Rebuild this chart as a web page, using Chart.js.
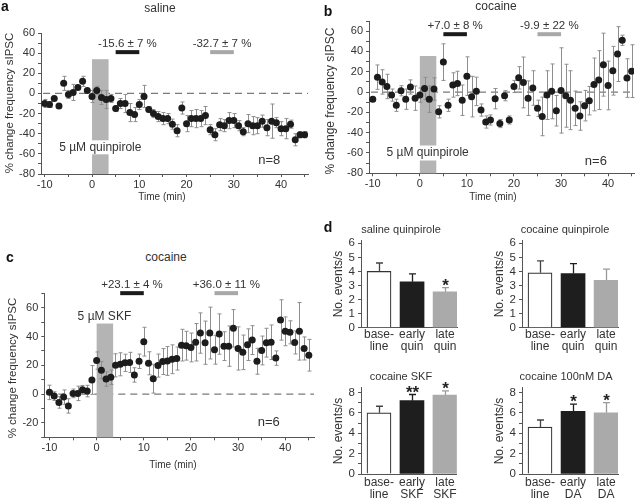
<!DOCTYPE html>
<html><head><meta charset="utf-8">
<script src="https://cdn.jsdelivr.net/npm/chart.js@4/dist/chart.umd.min.js"></script>
<style>
body{margin:0;width:640px;height:500px;position:relative;background:#fff;font-family:"Liberation Sans",Arial,sans-serif;color:#333;overflow:hidden}
canvas{position:absolute}
.t{position:absolute;white-space:nowrap;line-height:1;transform:translate(-50%,-50%)}
.r{position:absolute;white-space:nowrap;line-height:1;transform:translate(-50%,-50%) rotate(-90deg)}
.b{font-weight:bold;font-size:14px;color:#111}
</style></head><body>
<canvas id="ca" width="312" height="200" style="left:0;top:0"></canvas>
<canvas id="cb" width="318" height="200" style="left:320px;top:0"></canvas>
<canvas id="cc" width="318" height="200" style="left:0;top:270px"></canvas>
<canvas id="d1" width="130" height="126" style="left:330px;top:228px"></canvas>
<canvas id="d2" width="131" height="126" style="left:490px;top:228px"></canvas>
<canvas id="d3" width="130" height="122" style="left:330px;top:378px"></canvas>
<canvas id="d4" width="131" height="122" style="left:490px;top:378px"></canvas>

<div class="t b" style="left:5px;top:6px">a</div>
<div class="t" style="left:160px;top:8px;font-size:12px">saline</div>
<div class="r" style="left:10px;top:103px;font-size:11.5px">% change frequency sIPSC</div>
<div class="t" style="left:162px;top:197px;font-size:10px">Time (min)</div>

<div class="t b" style="left:328px;top:11px">b</div>
<div class="t" style="left:496px;top:6px;font-size:12px">cocaine</div>
<div class="r" style="left:330px;top:101px;font-size:12px">% change frequency sIPSC</div>
<div class="t" style="left:493px;top:197px;font-size:10px">Time (min)</div>

<div class="t b" style="left:10px;top:257px">c</div>
<div class="t" style="left:166px;top:257px;font-size:12px">cocaine</div>
<div class="r" style="left:13px;top:368px;font-size:11.5px">% change frequency sIPSC</div>
<div class="t" style="left:173px;top:465px;font-size:10px">Time (min)</div>

<div class="t b" style="left:328px;top:227px">d</div>
<div class="t" style="left:401px;top:229px;font-size:11px">saline quinpirole</div>
<div class="t" style="left:565px;top:229px;font-size:11px">cocaine quinpirole</div>
<div class="t" style="left:401px;top:376px;font-size:11px">cocaine SKF</div>
<div class="t" style="left:566px;top:376px;font-size:11px">cocaine 100nM DA</div>
<div class="r" style="left:338px;top:284px;font-size:12px">No. events/s</div>
<div class="r" style="left:499px;top:284px;font-size:12px">No. events/s</div>
<div class="r" style="left:338px;top:431px;font-size:12px">No. events/s</div>
<div class="r" style="left:499px;top:431px;font-size:12px">No. events/s</div>

<script>
// ---------- data ----------
const times = [-10,-9,-8,-7,-6,-5,-4,-3,-2,-1,0,1,2,3,4,5,6,7,8,9,10,11,12,13,14,15,16,17,18,19,20,21,22,23,24,25,26,27,28,29,30,31,32,33,34,35,36,37,38,39,40,41,42,43,44,45];

const salineQuin = [-10,-11,-5,-12.5,10,-1,1,6,12,3, -3,3,-4,-6,-5,-15,-10,-10,-19,-21, -11,-3,-16,-20,-23,-25,-25,-30.5,-37,-14.5, -30,-25,-25,-25,-22,-36,-41,-31,-32,-27, -27,-32,-38,-30,-32,-32,-27.5,-34,-27.5,-29, -35,-35,-30.5,-46,-41,-41];
const salineQuinErr = [4,3,2,2,7,4,8,2,5,2, 6,4,7,9,4,3,5,9,9,7, 5,11,3,4,5,6,5,5,6,6, 8,8,9,8,9,5,6,6,6,8, 7,5,4,9,9,8,6,8,17,5, 7,10,4,6,3,3];

const cocaineQuin = [-7,14.7,10,5.5,-3,-13,1.3,-7,5,-6, -3,3.5,-7,3,-19.5,29.5,-13,7,8.5,-8, 15.7,-4.5,0.7,-17.7,-29.5,-27.5,-6.5,-31,-3.6,-27.5, 5.5,14,9.5,-6,4,-16,-24,-3,0.7,-18.4, 1.6,-3.6,-8,-16,-23.6,-13.4,-8.5,7.5,11.8,27, 6.5,21,37.4,51,13.8,20.6];
const cocaineQuinErr = [2,12,12,12,6,6,5,10,7,12, 7,11,13,11,6,18,6,12,12,15, 19,20,14,6,6,5,10,4,5,4, 6,11,25,17,17,8,19,24,27,15, 42,31,29,17,14,15,14,26,29,31, 24,24,27,5,19,26];

const cocaineSKF = [1.2,-1.4,-5.8,-2.1,-8.2,0.5,0.5,3,2.1,9.8, 23.3,16.6,10.5,11.7,20,20.7,21.7,22,13.3,22.8, 36.4,21.4,10.7,19.8,22.6,23,24.2,24.7,34,33.6, 32.4,36,42.4,35.7,42.4,30.8,41.7,33.3,33.3,45.7, 31.7,29,34.3,37.5,22.8,30.3,35.7,36,25,51.5, 43.6,42.9,35.9,43.6,31.7,27];
const cocaineSKFErr = [5,3,4,5,5,3,5,3,4,10, 6,6,5,5,8,8,6,7,5,5, 10,8,10,8,9,10,10,8,11,10, 10,13,14,15,18,10,14,10,14,13, 15,12,11,10,9,10,10,12,5,14, 10,8,8,20,8,11];

const xTickVals = [-10,-5,0,5,10,15,20,25,30,35,40,45];
const xTickLabels = [-10,0,10,20,30,40];
const yTickValsAB = [-80,-70,-60,-50,-40,-30,-20,-10,0,10,20,30,40,50,60,70];
const yTickLabelsAB = [-80,-60,-40,-20,0,20,40,60];
const yTickValsC = [-30,-20,-10,0,10,20,30,40,50,60,70];
const yTickLabelsC = [-20,0,20,40,60];

const barCats = [['base-','line'],['early','quin'],['late','quin']];
const barCatsSKF = [['base-','line'],['early','SKF'],['late','SKF']];
const barCatsDA = [['base-','line'],['early','DA'],['late','DA']];
const barPos = [0,1,2];
const salineQuinBars = [4.0,3.27,2.55];
const salineQuinBarsErr = [0.6,0.55,0.3];
const cocaineQuinBars = [3.9,3.85,3.37];
const cocaineQuinBarsErr = [0.85,0.7,0.8];
const cocaineSKFBars = [6.0,7.2,7.75];
const cocaineSKFBarsErr = [0.65,0.6,0.4];
const cocaineDABars = [4.6,6.15,6.0];
const cocaineDABarsErr = [0.7,0.7,1.0];
const starsSalineQuin = ['','','*'];
const starsCocaineQuin = ['','',''];
const starsSKF = ['','**','*'];
const starsDA = ['','*','*'];
const yTicksBar6 = [0,1,2,3,4,5,6];
const yTicksBar8 = [0,1,2,3,4,5,6,7,8];
const yLabelsBar8 = [0,2,4,6,8];

// ---------- style ----------
const FONT = '"Liberation Sans", Arial, sans-serif';
Chart.defaults.font.family = FONT;
Chart.defaults.color = '#333';
const AX = '#555';

function linePlugin(c){
  return {
    id:'marks'+c.id,
    beforeDatasetsDraw(chart){
      const {ctx, chartArea:ca, scales:{x,y}} = chart;
      ctx.save();
      const y0 = y.getPixelForValue(0);
      ctx.strokeStyle = '#7a7a7a'; ctx.lineWidth = 1.2; ctx.setLineDash([7,5]);
      ctx.beginPath(); ctx.moveTo(ca.left+2, y0); ctx.lineTo(ca.right, y0); ctx.stroke();
      ctx.setLineDash([]);
      const rx0 = x.getPixelForValue(c.drug[0]), rx1 = x.getPixelForValue(c.drug[1]);
      const ry0 = y.getPixelForValue(c.drugTop);
      ctx.fillStyle = '#b4b4b4';
      ctx.fillRect(rx0, ry0, rx1-rx0, ca.bottom-ry0);
      ctx.font = '12px '+FONT;
      ctx.textAlign='center'; ctx.textBaseline='middle';
      const lx = x.getPixelForValue(c.drugLabelAt[0]), ly = y.getPixelForValue(c.drugLabelAt[1]);
      if (c.drugBox){
        const w = ctx.measureText(c.drugLabel).width;
        ctx.fillStyle='#fff'; ctx.fillRect(lx-w/2-2, ly-c.drugBox/2, w+4, c.drugBox);
      }
      ctx.fillStyle='#333'; ctx.fillText(c.drugLabel, lx, ly);
      c.epochs.forEach(e=>{
        const ex0 = x.getPixelForValue(e.from), ex1 = x.getPixelForValue(e.to);
        const ey = y.getPixelForValue(c.epochY);
        ctx.fillStyle = e.color; ctx.fillRect(ex0, ey-2, ex1-ex0, 4);
        ctx.fillStyle = '#333'; ctx.font = '11.5px '+FONT;
        ctx.fillText(e.text, (ex0+ex1)/2, ey-8.5);
      });
      ctx.font = '13px '+FONT; ctx.fillStyle='#333';
      ctx.fillText(c.nText, x.getPixelForValue(c.nAt[0]), y.getPixelForValue(c.nAt[1]));
      ctx.strokeStyle = '#8e8e8e'; ctx.lineWidth = 1;
      c.values.forEach((v,i)=>{
        const px = Math.round(x.getPixelForValue(times[i]))+0.5;
        const yt = y.getPixelForValue(v + c.err[i]), yb = y.getPixelForValue(v - c.err[i]);
        ctx.beginPath();
        ctx.moveTo(px, yt); ctx.lineTo(px, yb);
        ctx.moveTo(px-2, yt); ctx.lineTo(px+2, yt);
        ctx.moveTo(px-2, yb); ctx.lineTo(px+2, yb);
        ctx.stroke();
      });
      ctx.restore();
    }
  };
}

function lineChart(c){
  return new Chart(document.getElementById(c.id), {
    type:'scatter',
    data:{datasets:[{data:c.values.map((v,i)=>({x:times[i], y:v})), pointRadius:3.5, pointBackgroundColor:'#1c1c1c', pointBorderWidth:0, showLine:false}]},
    options:{
      responsive:false, animation:false, events:[],
      layout:{padding:{top:c.padTop, right:c.padRight, left:0, bottom:0}},
      plugins:{legend:{display:false}, tooltip:{enabled:false}},
      scales:{
        x:{type:'linear', min:c.xmin, max:c.xmax,
           afterFit:s=>{s.height=c.xh;},
           afterBuildTicks:s=>{s.ticks = xTickVals.map(v=>({value:v}));},
           ticks:{autoSkip:false, maxRotation:0, padding:1, font:{size:11}, color:'#333',
                  callback:v=> xTickLabels.includes(v) ? String(v) : ''},
           grid:{drawOnChartArea:false, tickLength:3, color:AX},
           border:{color:AX}},
        y:{type:'linear', min:c.ymin, max:c.ymax,
           afterFit:s=>{s.width=c.yw;},
           afterBuildTicks:s=>{s.ticks = c.yTicks.map(v=>({value:v}));},
           ticks:{autoSkip:false, padding:3, font:{size:11}, color:'#333',
                  callback:v=> c.yLabels.includes(v) ? String(v) : ''},
           grid:{drawOnChartArea:false, tickLength:3, color:AX},
           border:{color:AX}}
      }
    },
    plugins:[linePlugin(c)]
  });
}

lineChart({id:'ca', values:salineQuin, err:salineQuinErr, xmin:-10.8, xmax:45.7, ymin:-80, ymax:60,
  padTop:33, padRight:4, xh:26, yw:41, yTicks:yTickValsAB.slice(0,15), yLabels:yTickLabelsAB,
  drug:[0,3.5], drugTop:34, drugLabel:'5 µM quinpirole', drugLabelAt:[1.75,-53.5], drugBox:14,
  epochY:41, epochs:[{from:5,to:10,color:'#1a1a1a',text:'-15.6 ± 7 %'},{from:25,to:30,color:'#a8a8a8',text:'-32.7 ± 7 %'}],
  nText:'n=8', nAt:[37.5,-66.5]});

lineChart({id:'cb', values:cocaineQuin, err:cocaineQuinErr, xmin:-10.8, xmax:45.5, ymin:-80, ymax:70,
  padTop:21, padRight:3, xh:26.7, yw:49, yTicks:yTickValsAB, yLabels:yTickLabelsAB,
  drug:[0,3.5], drugTop:35.5, drugLabel:'5 µM quinpirole', drugLabelAt:[1.65,-60], drugBox:15,
  epochY:57, epochs:[{from:5,to:10,color:'#1a1a1a',text:'+7.0 ± 8 %'},{from:25,to:30,color:'#a8a8a8',text:'-9.9 ± 22 %'}],
  nText:'n=6', nAt:[37.4,-68]});

lineChart({id:'cc', values:cocaineSKF, err:cocaineSKFErr, xmin:-11.1, xmax:46.1, ymin:-30, ymax:70,
  padTop:23.3, padRight:3, xh:32.7, yw:44.3, yTicks:yTickValsC, yLabels:yTickLabelsC,
  drug:[0,3.5], drugTop:49, drugLabel:'5 µM SKF', drugLabelAt:[1.65,54], drugBox:0,
  epochY:70.1, epochs:[{from:5,to:10,color:'#1a1a1a',text:'+23.1 ± 4 %'},{from:25,to:30,color:'#a8a8a8',text:'+36.0 ± 11 %'}],
  nText:'n=6', nAt:[36.5,-19.4]});

function barPlugin(c){
  return {
    id:'bars'+c.id,
    afterDatasetsDraw(chart){
      const {ctx, scales:{x,y}} = chart;
      ctx.save();
      const cols = ['#444','#1e1e1e','#9a9a9a'];
      c.values.forEach((v,i)=>{
        const px = Math.round(x.getPixelForValue(barPos[i]))+0.5;
        const y1 = y.getPixelForValue(v), y2 = y.getPixelForValue(v + c.err[i]);
        ctx.strokeStyle = cols[i]; ctx.lineWidth = 1.3;
        ctx.beginPath(); ctx.moveTo(px, y1); ctx.lineTo(px, y2);
        ctx.moveTo(px-3.5, y2); ctx.lineTo(px+3.5, y2); ctx.stroke();
        if (c.stars[i]){
          ctx.fillStyle = '#222'; ctx.font = 'bold 17px '+FONT;
          ctx.textAlign='center'; ctx.textBaseline='alphabetic';
          ctx.fillText(c.stars[i], px, y2 + 3);
        }
      });
      ctx.restore();
    }
  };
}

function barChart(c){
  return new Chart(document.getElementById(c.id), {
    type:'bar',
    data:{datasets:[{data:c.values.map((v,i)=>({x:barPos[i], y:v})),
      backgroundColor:['#ffffff','#1e1e1e','#aaaaaa'], borderColor:['#333333','#1e1e1e','#aaaaaa'],
      borderWidth:[1.2,0,0], barThickness:24}]},
    options:{
      responsive:false, animation:false, events:[],
      layout:{padding:{top:c.padTop, right:c.padRight, left:0, bottom:0}},
      plugins:{legend:{display:false}, tooltip:{enabled:false}},
      scales:{
        x:{type:'linear', min:c.xmin, max:c.xmax, offset:false,
           afterFit:s=>{s.height=c.xh;},
           afterBuildTicks:s=>{s.ticks = barPos.map(v=>({value:v}));},
           ticks:{autoSkip:false, maxRotation:0, padding:c.xpad, font:{size:12, lineHeight:1.0}, color:'#333',
                  callback:(v)=> c.cats[v]},
           grid:{display:false, drawTicks:false},
           border:{display:true, color:AX}},
        y:{type:'linear', min:0, max:c.ymax,
           afterFit:s=>{s.width=c.yw;},
           afterBuildTicks:s=>{s.ticks = c.yTicks.map(v=>({value:v}));},
           ticks:{autoSkip:false, padding:3, font:{size:11.5}, color:'#333',
                  callback:v=> c.yLabels.includes(v) ? String(v) : ''},
           grid:{drawOnChartArea:false, tickLength:3, color:AX},
           border:{color:AX}}
      }
    },
    plugins:[barPlugin(c)]
  });
}

barChart({id:'d1', values:salineQuinBars, err:salineQuinBarsErr, stars:starsSalineQuin, cats:barCats,
  xmin:-0.545, xmax:2.36, ymax:6.2, padTop:12.5, padRight:3, xh:26.3, xpad:1.3, yw:31, yTicks:yTicksBar6, yLabels:yTicksBar6});
barChart({id:'d2', values:cocaineQuinBars, err:cocaineQuinBarsErr, stars:starsCocaineQuin, cats:barCats,
  xmin:-0.545, xmax:2.36, ymax:6.2, padTop:12.5, padRight:3, xh:26.3, xpad:1.3, yw:32, yTicks:yTicksBar6, yLabels:yTicksBar6});
barChart({id:'d3', values:cocaineSKFBars, err:cocaineSKFBarsErr, stars:starsSKF, cats:barCatsSKF,
  xmin:-0.545, xmax:2.36, ymax:8.45, padTop:9.4, padRight:3, xh:26, xpad:3, yw:31, yTicks:yTicksBar8, yLabels:yLabelsBar8});
barChart({id:'d4', values:cocaineDABars, err:cocaineDABarsErr, stars:starsDA, cats:barCatsDA,
  xmin:-0.545, xmax:2.36, ymax:8.45, padTop:9.4, padRight:3, xh:26, xpad:3, yw:32, yTicks:yTicksBar8, yLabels:yLabelsBar8});
</script>
</body></html>
